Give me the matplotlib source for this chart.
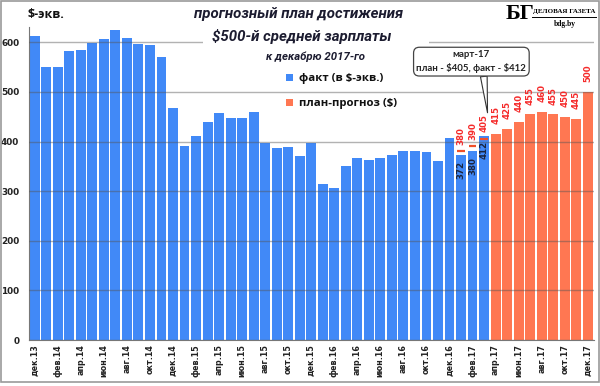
import matplotlib
matplotlib.use("Agg")
import matplotlib.pyplot as plt
from matplotlib.patches import Rectangle
import numpy as np

# ----- DATA -----
fact = [613, 550, 550, 582, 585, 599, 606, 625, 609, 597,
        594, 571, 468, 390, 411, 440, 458, 447, 447, 459,
        398, 386, 389, 370, 398, 314, 306, 350, 367, 362,
        367, 373, 381, 380, 378, 361, 407, 372, 380, 412]
forecast = [415, 425, 440, 455, 460, 455, 450, 445, 500]
plan_2017 = [380, 390, 405]          # plan for янв-мар 2017
fact_2017 = [372, 380, 412]          # fact for янв-мар 2017
tick_labels = ["дек.13", "фев.14", "апр.14", "июн.14", "авг.14", "окт.14",
               "дек.14", "фев.15", "апр.15", "июн.15", "авг.15", "окт.15",
               "дек.15", "фев.16", "апр.16", "июн.16", "авг.16", "окт.16",
               "дек.16", "фев.17", "апр.17", "июн.17", "авг.17", "окт.17",
               "дек.17"]

BLUE = "#4189f7"
ORANGE = "#ff7752"
RED = "#f52a2a"
W, H = 600, 386


def fx(x):
    return x / W


def fy(y):
    return 1 - y / H


fig = plt.figure(figsize=(6, 3.86), dpi=100)
ax = fig.add_axes([fx(29), fy(340), fx(564.5), (340 - 27.4) / H])

n_fact = len(fact)
x_fact = np.arange(n_fact)
x_fc = np.arange(n_fact, n_fact + len(forecast))

ax.bar(x_fact, fact, width=0.86, color=BLUE, zorder=2, label=r"факт (в \$-экв.)")
ax.bar(x_fc, forecast, width=0.86, color=ORANGE, zorder=2, label=r"план-прогноз (\$)")

ax.set_xlim(-0.5, n_fact + len(forecast) - 0.5)
ax.set_ylim(0, 630)
ax.set_yticks(np.arange(0, 601, 100))
ax.yaxis.grid(True, color="#555555", alpha=0.45, linewidth=1, zorder=3)
ax.set_axisbelow(False)
ax.set_xticks(np.arange(0, n_fact + len(forecast), 2))
ax.set_xticklabels(tick_labels, rotation=90, fontsize=5.8, fontweight="bold",
                   color="#222222")
for lab in ax.get_yticklabels():
    lab.set_fontsize(6.4)
    lab.set_fontweight("bold")
    lab.set_color("#222222")
ax.tick_params(length=0, pad=3)
ax.tick_params(axis="y", pad=7)
for s in ["top", "right"]:
    ax.spines[s].set_visible(False)
ax.spines["left"].set_color("#777777")
ax.spines["bottom"].set_color("#777777")

lab_font = ["Liberation Sans Narrow", "DejaVu Sans"]

# plan markers and labels for янв-мар 2017
x_q1 = x_fact[-3:]
for xi, p, f in zip(x_q1, plan_2017, fact_2017):
    ax.plot([xi - 0.32, xi + 0.32], [p, p], color="#f0502a", lw=1.6, zorder=4,
            solid_capstyle="butt")
    ax.annotate(str(p), (xi, p), xytext=(0, 5), textcoords="offset points",
                rotation=90, ha="center", va="bottom", fontsize=6.2,
                fontweight="bold", color=RED, family=lab_font, zorder=5)
    ax.annotate(str(f), (xi, f), xytext=(0, -4), textcoords="offset points",
                rotation=90, ha="center", va="top", fontsize=6.2,
                fontweight="bold", color="#1a2540", family=lab_font, zorder=5)

for xi, v in zip(x_fc, forecast):
    ax.annotate(str(v), (xi, v), xytext=(0, 7), textcoords="offset points",
                rotation=90, ha="center", va="bottom", fontsize=6.2,
                fontweight="bold", color=RED, family=lab_font, zorder=5)

# white area behind the title (covers the 600 gridline)
ax.add_patch(Rectangle((fx(203), fy(70)), fx(226), 70 / H, transform=fig.transFigure,
                       fc="white", ec="none", zorder=3.5, clip_on=False))

# callout
ax.annotate("март-17\nплан - \\$405, факт - \\$412", xy=(39.3, 458), xytext=(37.9, 561),
            textcoords="data", ha="center", va="center", fontsize=6.9,
            family="Lato", fontweight="bold", color="#222222", linespacing=1.5,
            annotation_clip=False, zorder=6,
            bbox=dict(boxstyle="round,pad=0.3,rounding_size=0.6", fc="white",
                      ec="#444444", lw=0.9),
            arrowprops=dict(arrowstyle="wedge,tail_width=0.7,shrink_factor=0.5",
                            fc="white", ec="#333333", lw=0.8,
                            relpos=(0.61, 0.0), shrinkA=0, shrinkB=0))

leg = ax.legend(loc="upper left", bbox_to_anchor=(fx(276), fy(63)),
                bbox_transform=fig.transFigure, frameon=False,
                handlelength=0.55, handleheight=0.55, handletextpad=0.6,
                labelspacing=1.25, prop={"family": "Open Sans", "weight": "bold", "size": 8.2})
leg.set_zorder(7)
for t in leg.get_texts():
    t.set_color("#111111")

title_kw = dict(ha="center", va="center", fontweight="bold", style="italic",
                family="Roboto", color="#1c1c30", zorder=2)
fig.text(fx(299), fy(14), "прогнозный план достижения", fontsize=10.8, **title_kw)
fig.text(fx(302), fy(36), r"\$500-й средней зарплаты", fontsize=10.8, **title_kw)
fig.text(fx(316), fy(57), "к декабрю 2017-го", fontsize=8.2, **title_kw)

fig.text(fx(27), fy(14), r"\$-экв.", ha="left", va="center", fontsize=9,
         fontweight="bold", family="Open Sans", color="#111111")

# logo
fig.text(fx(520), fy(14), "БГ", ha="center", va="center", fontsize=16,
         fontweight="bold", family="Liberation Serif", color="black")
fig.text(fx(564), fy(12), "ДЕЛОВАЯ ГАЗЕТА", ha="center", va="center", fontsize=5.0,
         fontweight="bold", family="Liberation Serif", color="black")
fig.lines.append(plt.Line2D([fx(532), fx(596)], [fy(17), fy(17)],
                            transform=fig.transFigure, color="black", lw=0.7))
fig.text(fx(565), fy(24.5), "bdg.by", ha="center", va="center", fontsize=5.5,
         fontweight="bold", family="Liberation Serif", color="black")

# outer frame
fig.patches.append(Rectangle((fx(0.5), fy(382)), fx(598), 381 / H, transform=fig.transFigure,
                             fc="none", ec="#9a9a9a", lw=1.2, zorder=3))

fig.savefig("out.png", dpi=100)
